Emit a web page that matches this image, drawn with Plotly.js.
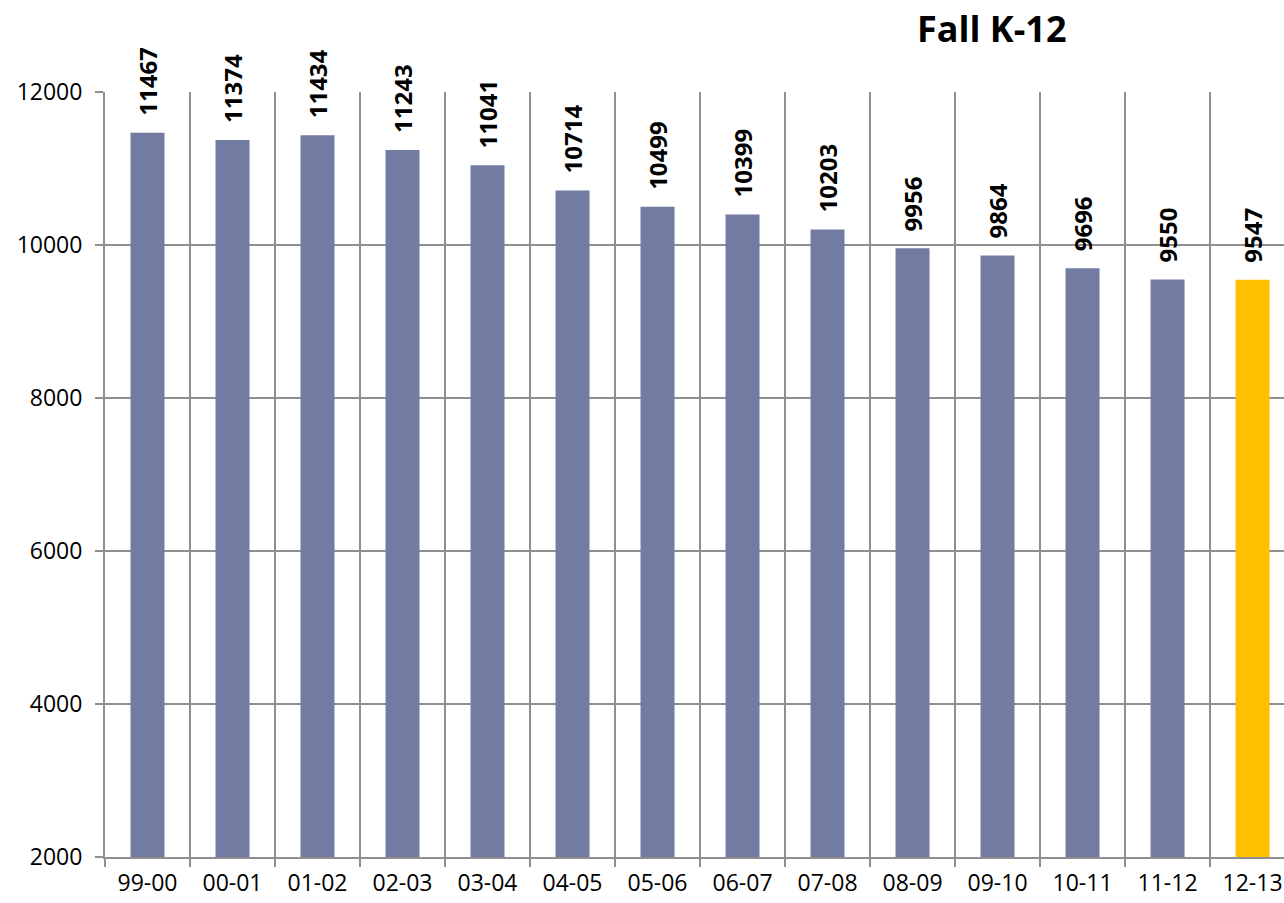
<!DOCTYPE html>
<html>
<head>
<meta charset="utf-8">
<script src="https://cdn.plot.ly/plotly-3.0.1.min.js"></script>
<style>html,body{margin:0;padding:0;background:#fff;}#chart{width:1284px;height:903px;}</style>
</head>
<body>
<div id="chart"></div>
<script>
const categories = ["99-00","00-01","01-02","02-03","03-04","04-05","05-06","06-07","07-08","08-09","09-10","10-11","11-12","12-13"];
const enrollment = [11467,11374,11434,11243,11041,10714,10499,10399,10203,9956,9864,9696,9550,9547];
const barColors = ["#727CA3","#727CA3","#727CA3","#727CA3","#727CA3","#727CA3","#727CA3","#727CA3","#727CA3","#727CA3","#727CA3","#727CA3","#727CA3","#FFC000"];
const yTicks = [2000,4000,6000,8000,10000,12000];
const chartTitle = "Fall K-12";

const font = "Open Sans, Liberation Sans, sans-serif";
const grid = "#8f8f8f";

const trace = {
  type: "bar",
  x: categories,
  y: enrollment,
  width: 0.4,
  marker: {color: barColors, line: {width: 0}},
  hoverinfo: "x+y"
};

const annotations = categories.map((c, i) => ({
  x: c, y: enrollment[i], xref: "x", yref: "y",
  text: String(enrollment[i]),
  textangle: -90,
  showarrow: false,
  xanchor: "center", yanchor: "bottom",
  yshift: 15,
  font: {family: font, size: 24, color: "#000", weight: "bold"}
}));
annotations.push({
  xref: "paper", yref: "paper",
  x: (991 - 105) / 1179, y: 1 + (92 - 28) / 765,
  xanchor: "center", yanchor: "middle",
  text: "<b>" + chartTitle + "</b>",
  showarrow: false,
  font: {family: font, size: 36, color: "#000"}
});

const layout = {
  width: 1284, height: 903,
  margin: {l: 105, r: 0, t: 92, b: 46, pad: 0},
  paper_bgcolor: "#fff", plot_bgcolor: "#fff",
  showlegend: false,
  xaxis: {
    type: "category",
    range: [-0.5, 13.37],
    tickson: "boundaries",
    showgrid: true, gridcolor: grid, gridwidth: 2,
    showline: true, linecolor: grid, linewidth: 2,
    ticks: "outside", ticklen: 8, tickcolor: grid, tickwidth: 2,
    ticklabelstandoff: 4,
    tickfont: {family: font, size: 23, color: "#000"},
    zeroline: false, fixedrange: true
  },
  yaxis: {
    range: [2000, 12000],
    tickvals: yTicks,
    ticktext: yTicks.map(String),
    showgrid: true, gridcolor: grid, gridwidth: 2,
    showline: true, linecolor: grid, linewidth: 2,
    ticks: "outside", ticklen: 8, tickcolor: grid, tickwidth: 2,
    ticklabelstandoff: 8,
    tickfont: {family: font, size: 23, color: "#000"},
    zeroline: false, fixedrange: true
  },
  annotations: annotations
};

Plotly.newPlot("chart", [trace], layout, {displayModeBar: false, staticPlot: true});
</script>
</body>
</html>
